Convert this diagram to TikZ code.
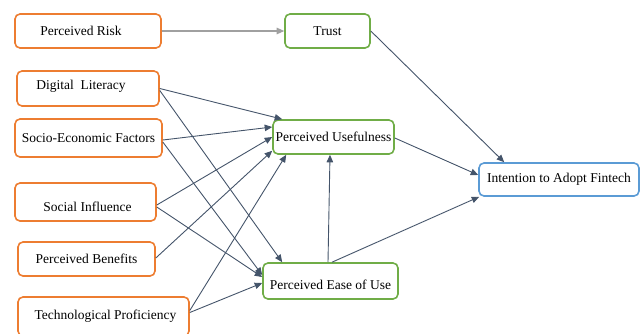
\documentclass[tikz,border=0pt]{standalone}
\usepackage{fontspec}
\setmainfont{Liberation Serif}
\usetikzlibrary{arrows.meta}
\definecolor{obox}{HTML}{ED7D31}
\definecolor{gbox}{HTML}{70AD47}
\definecolor{bbox}{HTML}{5B9BD5}
\definecolor{arr}{HTML}{44546A}
\definecolor{garr}{HTML}{A0A0A0}
\begin{document}
\begin{tikzpicture}[x=1pt,y=-1pt,
  box/.style={draw,line width=1.6pt,rounded corners=5pt,fill=white,inner sep=0pt,
    font=\fontsize{13.5}{15}\selectfont},
  obx/.style={box,draw=obox},
  gbx/.style={box,draw=gbox},
  bbx/.style={box,draw=bbox},
  conn/.style={draw=arr,line width=0.9pt,-{Triangle[length=7.5pt,width=6.5pt]}},
  gconn/.style={draw=garr,line width=1.1pt,-{Triangle[length=7.5pt,width=6.5pt]}}]
\useasboundingbox (0,0) rectangle (643,333);
\node[obx,minimum width=146pt,minimum height=34pt] (pr) at (88,31) {Perceived Risk\hspace*{14pt}};
\node[obx,minimum width=142pt,minimum height=35pt] (dl) at (88,88.5) {\raisebox{-0.5pt}[0pt][0pt]{Digital\ \ Literacy}\hspace*{14pt}};
\node[obx,minimum width=147pt,minimum height=38pt] (se) at (88.5,138) {Socio-Economic Factors};
\node[obx,minimum width=141pt,minimum height=38pt] (si) at (85.5,202) {\hspace*{4pt}\raisebox{-9pt}[0pt][0pt]{Social Influence}};
\node[obx,minimum width=137pt,minimum height=34pt] (pb) at (86.5,259) {Perceived Benefits};
\node[obx,minimum width=171pt,minimum height=39pt] (tp) at (103.5,316.5) {\hspace*{4pt}Technological Proficiency};
\node[gbx,minimum width=85pt,minimum height=34pt] (tr) at (327.5,31) {Trust};
\node[gbx,minimum width=121pt,minimum height=34pt] (pu) at (333.5,137) {Perceived Usefulness};
\node[gbx,minimum width=135pt,minimum height=36pt] (pe) at (330.5,281) {\raisebox{-8pt}[0pt][0pt]{Perceived Ease of Use}};
\node[bbx,minimum width=160pt,minimum height=33pt] (it) at (559,179.5) {Intention to Adopt Fintech};
\draw[gconn] (pr.east) -- (tr.west);
\draw[conn] (dl.east) -- ([xshift=10pt]pu.north west);
\draw[conn] ([yshift=-2pt]dl.east) -- ([xshift=20pt]pe.north west);
\draw[conn] ([yshift=-2pt]se.east) -- ([yshift=10pt]pu.west);
\draw[conn] ([yshift=-4pt]se.east) -- ([yshift=6pt]pe.west);
\draw[conn] ([yshift=-3pt]si.east) -- (pu.west);
\draw[conn] ([yshift=-5pt]si.east) -- ([yshift=4pt]pe.west);
\draw[conn] ([yshift=1pt]pb.east) -- ([yshift=4pt]pu.south west);
\draw[conn] ([yshift=6pt]tp.east) -- ([xshift=14pt]pu.south west);
\draw[conn] ([yshift=4pt]tp.east) -- ([yshift=-2pt]pe.west);
\draw[conn] ([xshift=-2.5pt]pe.north) -- ([xshift=-3.5pt]pu.south);
\draw[conn] ([xshift=1.5pt]pe.north) -- ([xshift=1pt]it.south west);
\draw[conn] ([yshift=-1pt]pu.east) -- ([yshift=4.5pt]it.west);
\draw[conn] (tr.east) -- ([xshift=26pt]it.north west);
\end{tikzpicture}
\end{document}
